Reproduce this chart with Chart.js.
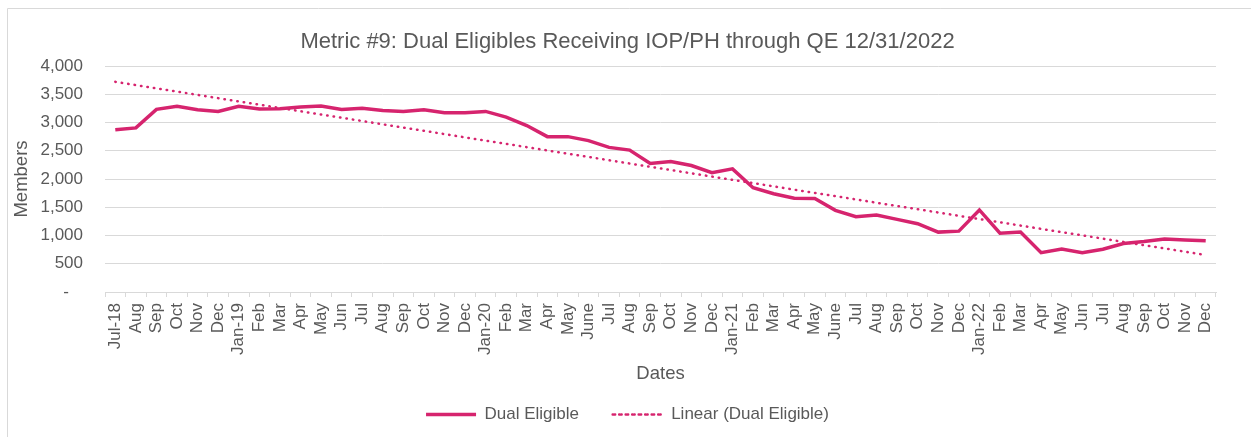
<!DOCTYPE html>
<html>
<head>
<meta charset="utf-8">
<script src="https://cdn.jsdelivr.net/npm/chart.js@4"></script>
<style>
  html, body { margin: 0; padding: 0; background: #fff; }
  #wrap { width: 1251px; height: 437px; }
</style>
</head>
<body>
<div id="wrap"><canvas id="metricChart" width="1251" height="437"></canvas></div>
<script>
// month labels, Jul-18 .. Dec-22
const months = [
  "Jul-18", "Aug", "Sep", "Oct", "Nov", "Dec",
  "Jan-19", "Feb", "Mar", "Apr", "May", "Jun", "Jul", "Aug", "Sep", "Oct", "Nov", "Dec",
  "Jan-20", "Feb", "Mar", "Apr", "May", "June", "Jul", "Aug", "Sep", "Oct", "Nov", "Dec",
  "Jan-21", "Feb", "Mar", "Apr", "May", "June", "Jul", "Aug", "Sep", "Oct", "Nov", "Dec",
  "Jan-22", "Feb", "Mar", "Apr", "May", "Jun", "Jul", "Aug", "Sep", "Oct", "Nov", "Dec"
];

// members per month
const dualEligible = [
  2870, 2905, 3232, 3286, 3226, 3196,
  3286, 3238, 3244, 3274, 3292, 3232, 3250, 3214, 3196, 3226, 3172, 3172,
  3196, 3095, 2946, 2750, 2750, 2679, 2560, 2512, 2274, 2310, 2238, 2113,
  2179, 1845, 1738, 1661, 1655, 1446, 1333, 1363, 1286, 1208, 1060, 1077,
  1452, 1042, 1060, 696, 762, 696, 756, 857, 893, 940, 922, 905
];

// linear trend, value at first and last month
const trendEnds = [3720, 655];

const yTicks = [0, 500, 1000, 1500, 2000, 2500, 3000, 3500, 4000];

const pink = "#d6246e";
const grey = "#595959";
const gridGrey = "#d9d9d9";
const fontFamily = "'Liberation Sans', Arial, sans-serif";

const trendData = months.map((m, i) =>
  i === 0 ? trendEnds[0] : (i === months.length - 1 ? trendEnds[1] : null));

// light frame round the chart area (left and top edges visible)
const framePlugin = {
  id: "frame",
  beforeDraw(chart) {
    const ctx = chart.ctx;
    ctx.save();
    ctx.strokeStyle = gridGrey;
    ctx.lineWidth = 1;
    ctx.beginPath();
    ctx.moveTo(7.5, chart.height);
    ctx.lineTo(7.5, 8.5);
    ctx.lineTo(chart.width, 8.5);
    ctx.stroke();
    ctx.restore();
  }
};

const ctx = document.getElementById("metricChart").getContext("2d");
new Chart(ctx, {
  type: "line",
  data: {
    labels: months,
    datasets: [{
      label: "Dual Eligible",
      data: dualEligible,
      borderColor: pink,
      backgroundColor: pink,
      borderWidth: 3.5,
      pointRadius: 0,
      tension: 0,
      yAxisID: "y"
    }, {
      label: "Linear (Dual Eligible)",
      data: trendData,
      borderColor: pink,
      backgroundColor: pink,
      borderWidth: 2.5,
      borderDash: [0.5, 6],
      borderCapStyle: "round",
      pointRadius: 0,
      spanGaps: true,
      yAxisID: "y"
    }]
  },
  options: {
    responsive: false,
    animation: false,
    layout: { padding: { left: 4, right: 0, top: 0, bottom: 4 } },
    plugins: {
      title: {
        display: true,
        text: "Metric #9: Dual Eligibles Receiving IOP/PH through QE 12/31/2022",
        color: grey,
        font: { family: fontFamily, size: 22, weight: "normal" },
        padding: { top: 29, bottom: 10.6 }
      },
      legend: {
        position: "bottom",
        labels: {
          color: grey,
          font: { family: fontFamily, size: 17 },
          boxWidth: 50,
          boxHeight: 0,
          padding: 10,
          generateLabels(chart) {
            const items = Chart.defaults.plugins.legend.labels.generateLabels(chart);
            items[0].text = items[0].text + "     ";
            items.forEach(it => { it.fillStyle = "rgba(0,0,0,0)"; });
            return items;
          }
        }
      },
      tooltip: { enabled: false }
    },
    scales: {
      x: {
        type: "category",
        offset: true,
        grid: {
          offset: true,
          drawOnChartArea: false,
          drawTicks: true,
          tickLength: 5,
          color: gridGrey
        },
        border: { display: true, color: gridGrey },
        ticks: {
          autoSkip: false,
          maxRotation: 90,
          minRotation: 90,
          padding: 6,
          color: grey,
          font: { family: fontFamily, size: 17 }
        },
        title: {
          display: true,
          text: "Dates",
          color: grey,
          font: { family: fontFamily, size: 18.5 },
          padding: { top: 0, bottom: 11 }
        },
        afterFit(scale) { scale.height = 104; }
      },
      y: {
        position: "left",
        min: 0,
        max: 4000,
        afterBuildTicks(scale) { scale.ticks = yTicks.map(v => ({ value: v })); },
        grid: { color: gridGrey, drawTicks: false },
        border: { display: false },
        ticks: {
          padding: 22,
          color: grey,
          font: { family: fontFamily, size: 17 },
          callback: v => v === 0 ? "-   " : v.toLocaleString("en-US")
        },
        title: {
          display: true,
          text: "Members",
          color: grey,
          font: { family: fontFamily, size: 18.5 },
          padding: { top: 7, bottom: 0 }
        },
        afterFit(scale) { scale.width = 101; }
      },
      y2: {
        position: "right",
        display: true,
        grid: { display: false, drawTicks: false },
        border: { display: false },
        ticks: { display: false },
        afterFit(scale) { scale.width = 35; }
      }
    }
  },
  plugins: [framePlugin]
});
</script>
</body>
</html>
